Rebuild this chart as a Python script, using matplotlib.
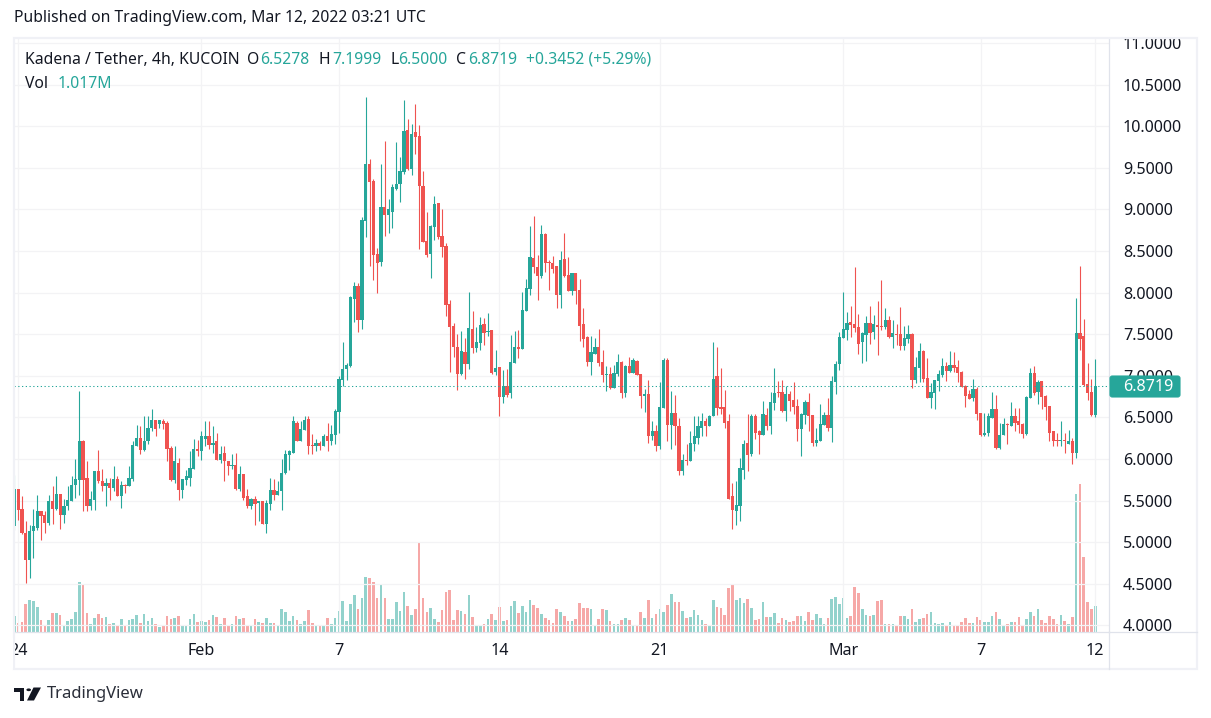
import numpy as np
import matplotlib
matplotlib.use('Agg')
import matplotlib.pyplot as plt
from matplotlib.patches import Rectangle, Polygon, Circle, FancyBboxPatch
from matplotlib.lines import Line2D

# KDA/USDT 4h candles
opens = [5.19,5.64,5.40,5.11,4.79,5.13,5.17,5.38,5.33,5.23,
         5.49,5.40,5.58,5.33,5.44,5.50,5.69,5.75,6.22,5.77,
         5.43,5.51,5.85,5.74,5.67,5.71,5.65,5.76,5.56,5.69,
         5.68,5.76,6.16,6.25,6.11,6.22,6.37,6.47,6.42,6.46,
         6.43,6.13,5.75,5.95,5.63,5.75,5.77,5.88,6.12,6.09,
         6.24,6.27,6.17,6.21,5.99,6.07,5.98,5.91,5.93,5.64,
         5.82,5.56,5.43,5.52,5.47,5.50,5.22,5.46,5.63,5.57,
         5.61,5.83,6.05,6.07,6.43,6.21,6.35,6.48,6.16,6.16,
         6.19,6.16,6.27,6.22,6.29,6.57,6.95,7.08,7.12,7.92,
         8.08,7.67,8.86,9.54,9.34,8.46,8.37,9.03,8.93,8.97,
         9.25,9.30,9.45,9.95,9.49,9.93,9.88,9.28,8.62,8.46,
         8.79,9.07,8.68,8.56,7.86,7.60,7.35,7.02,7.29,7.14,
         7.56,7.33,7.39,7.62,7.53,7.55,7.05,7.11,6.75,6.88,
         6.79,7.15,7.34,7.32,7.78,8.04,8.41,8.31,8.20,8.70,
         8.37,8.35,8.32,7.97,8.40,8.21,8.02,8.23,8.03,7.62,
         7.47,7.17,7.26,7.35,7.17,7.01,7.02,6.85,7.02,7.17,
         6.79,7.12,7.03,7.18,7.02,6.76,6.78,6.28,6.33,6.15,
         6.61,7.19,6.41,6.55,6.40,5.85,5.99,5.97,6.18,6.25,
         6.37,6.46,6.39,6.52,7.00,6.63,6.63,6.46,5.55,5.38,
         5.43,5.87,6.19,6.06,6.51,6.33,6.29,6.53,6.39,6.67,
         6.81,6.81,6.58,6.78,6.71,6.64,6.36,6.53,6.69,6.53,
         6.19,6.22,6.41,6.53,6.37,6.93,7.14,7.45,7.55,7.65,
         7.62,7.59,7.41,7.49,7.63,7.53,7.61,7.60,7.59,7.67,
         7.47,7.50,7.50,7.36,7.44,7.50,6.95,7.09,7.30,6.97,
         6.73,6.79,6.94,7.01,7.12,7.06,7.13,7.11,7.05,6.88,
         6.78,6.73,6.84,6.55,6.29,6.31,6.49,6.60,6.13,6.29,
         6.42,6.40,6.51,6.45,6.42,6.30,6.73,7.03,6.81,6.94,
         6.76,6.64,6.33,6.22,6.21,6.23,6.18,6.21,6.07,7.51,
         7.48,6.90,6.80,6.5278]
closes = [5.64,5.39,5.11,4.78,5.13,5.19,5.37,5.32,5.23,5.50,
          5.40,5.58,5.33,5.44,5.51,5.69,5.76,6.22,5.75,5.43,
          5.52,5.85,5.74,5.67,5.71,5.65,5.76,5.56,5.69,5.68,
          5.77,6.17,6.25,6.11,6.22,6.37,6.47,6.36,6.47,6.42,
          6.12,5.75,5.97,5.63,5.76,5.79,5.89,6.12,6.09,6.27,
          6.27,6.17,6.19,5.99,6.06,5.97,5.91,5.93,5.64,5.82,
          5.53,5.43,5.52,5.46,5.50,5.22,5.47,5.63,5.57,5.62,
          5.83,6.06,6.09,6.45,6.21,6.36,6.47,6.15,6.15,6.19,
          6.15,6.27,6.21,6.30,6.58,6.96,7.08,7.13,7.95,8.08,
          7.67,8.87,9.54,9.33,8.45,8.35,9.03,8.93,9.00,9.27,
          9.31,9.46,9.94,9.48,9.91,9.87,9.28,8.61,8.45,8.80,
          9.06,8.67,8.55,7.85,7.59,7.34,7.02,7.30,7.14,7.57,
          7.33,7.40,7.61,7.51,7.54,7.03,7.09,6.75,6.88,6.77,
          7.17,7.35,7.32,7.79,8.05,8.43,8.31,8.20,8.70,8.35,
          8.35,8.28,7.97,8.39,8.20,8.02,8.23,8.02,7.60,7.44,
          7.17,7.29,7.35,7.15,7.01,7.02,6.85,7.03,7.17,6.79,
          7.12,7.03,7.19,7.01,6.76,6.78,6.27,6.33,6.15,6.63,
          7.19,6.41,6.55,6.39,5.85,5.99,5.97,6.19,6.27,6.39,
          6.46,6.39,6.52,6.96,6.61,6.60,6.43,5.52,5.39,5.45,
          5.89,6.18,6.05,6.51,6.31,6.29,6.54,6.39,6.69,6.79,
          6.79,6.58,6.78,6.70,6.63,6.36,6.54,6.69,6.52,6.19,
          6.23,6.42,6.53,6.37,6.94,7.14,7.47,7.56,7.63,7.61,
          7.57,7.38,7.51,7.63,7.51,7.62,7.59,7.59,7.67,7.47,
          7.51,7.49,7.36,7.45,7.50,6.95,7.11,7.30,6.96,6.73,
          6.81,6.95,7.02,7.12,7.06,7.13,7.09,7.03,6.87,6.76,
          6.72,6.84,6.54,6.29,6.31,6.51,6.60,6.13,6.29,6.42,
          6.41,6.51,6.43,6.41,6.30,6.75,7.03,6.79,6.93,6.75,
          6.63,6.31,6.21,6.21,6.23,6.21,6.21,6.07,7.51,7.44,
          6.89,6.79,6.53,6.8719]
highs = [5.81,5.64,5.56,5.25,5.21,5.40,5.57,5.38,5.37,5.57,
         5.68,5.79,5.58,5.52,5.68,5.79,6.00,6.82,6.23,5.97,
         5.62,5.85,6.11,5.88,5.77,5.77,5.91,5.80,5.73,5.70,
         5.91,6.22,6.41,6.39,6.51,6.51,6.60,6.47,6.47,6.48,
         6.45,6.15,6.15,6.01,5.76,5.87,6.09,6.24,6.23,6.33,
         6.46,6.45,6.39,6.31,6.16,6.15,5.98,6.06,6.07,5.91,
         5.82,5.64,5.53,5.56,5.50,5.50,5.51,5.77,5.76,5.73,
         6.00,6.11,6.11,6.51,6.46,6.46,6.51,6.51,6.30,6.24,
         6.21,6.30,6.43,6.41,6.60,7.00,7.41,7.15,7.96,8.13,
         8.11,8.91,10.35,9.61,9.36,8.53,9.55,9.82,9.13,9.31,
         9.81,9.63,10.31,10.08,10.02,10.26,10.01,9.46,8.97,8.81,
         9.16,9.07,9.00,8.59,7.91,7.63,7.50,7.54,7.45,8.01,
         7.78,7.58,7.71,7.69,7.75,7.55,7.31,7.11,7.07,7.08,
         7.49,7.54,7.55,8.01,8.16,8.80,8.92,8.45,8.81,8.71,
         8.39,8.44,8.32,8.50,8.71,8.43,8.23,8.23,8.16,7.81,
         7.48,7.48,7.45,7.56,7.31,7.12,7.11,7.13,7.26,7.18,
         7.13,7.23,7.21,7.19,7.02,6.84,6.95,6.45,6.41,6.93,
         7.21,7.21,6.82,6.77,6.49,6.06,6.18,6.33,6.51,6.51,
         6.55,6.49,6.53,7.41,7.35,7.09,6.83,6.54,5.71,5.74,
         6.01,6.23,6.54,6.54,6.54,6.35,6.70,6.61,6.81,7.09,
         6.94,6.95,6.88,6.82,6.93,6.72,6.55,6.71,6.79,6.53,
         6.37,6.66,6.57,6.73,7.00,7.18,7.53,8.01,7.77,7.84,
         8.31,7.74,7.53,7.72,7.84,7.73,7.90,8.15,7.81,7.72,
         7.67,7.62,7.83,7.60,7.61,7.51,7.23,7.39,7.31,7.21,
         6.91,6.95,7.07,7.21,7.17,7.30,7.29,7.19,7.06,6.89,
         6.83,6.96,6.87,6.55,6.55,6.55,6.81,6.77,6.43,6.49,
         6.43,6.69,6.61,6.61,6.43,6.76,7.09,7.12,6.95,6.94,
         6.77,6.64,6.34,6.31,6.46,6.31,6.35,6.25,7.93,8.32,
         7.68,7.15,6.96,7.1999]
lows = [5.15,5.27,5.10,4.51,4.57,4.81,5.15,5.02,5.11,5.21,
        5.22,5.39,5.16,5.23,5.39,5.50,5.53,5.57,5.38,5.37,
        5.39,5.39,5.71,5.61,5.43,5.51,5.62,5.55,5.41,5.59,
        5.68,5.74,6.16,6.06,6.10,6.18,6.34,6.28,6.37,6.36,
        5.97,5.73,5.71,5.51,5.53,5.69,5.68,5.88,6.04,5.99,
        6.15,6.12,6.07,5.99,5.95,5.73,5.81,5.88,5.63,5.61,
        5.51,5.41,5.40,5.21,5.26,5.22,5.11,5.39,5.51,5.57,
        5.39,5.82,5.87,6.07,6.21,6.21,6.35,6.06,6.06,6.09,
        6.11,6.16,6.09,6.17,6.18,6.31,6.88,6.95,7.11,7.65,
        7.53,7.56,8.67,8.32,8.15,8.00,8.32,8.68,8.71,8.77,
        9.23,9.09,9.42,9.47,9.41,9.66,8.52,8.61,8.43,8.17,
        8.63,8.64,8.43,7.72,7.05,7.23,6.83,7.01,6.96,7.08,
        7.27,7.29,7.31,7.37,7.48,7.02,7.01,6.51,6.67,6.75,
        6.73,7.15,7.21,7.32,7.78,7.97,8.23,7.91,8.17,8.25,
        8.03,8.23,7.81,7.81,8.19,8.02,7.97,7.86,7.42,7.35,
        7.12,7.01,7.26,7.12,6.93,6.82,6.84,6.85,7.00,6.73,
        6.74,7.03,7.03,7.01,6.61,6.57,6.19,6.23,6.09,6.12,
        6.61,6.21,6.12,6.17,5.81,5.81,5.93,5.97,6.09,6.18,
        6.27,6.28,6.39,6.52,6.53,6.54,6.37,5.52,5.16,5.21,
        5.25,5.76,5.86,6.03,6.24,6.06,6.29,6.35,6.30,6.59,
        6.75,6.57,6.45,6.58,6.54,6.21,6.03,6.42,6.33,6.16,
        6.16,6.21,6.41,6.34,6.20,6.78,7.07,7.45,7.43,7.47,
        7.53,7.26,7.15,7.18,7.38,7.44,7.25,7.55,7.56,7.45,
        7.33,7.37,7.31,7.31,7.39,6.85,6.91,6.93,6.93,6.73,
        6.61,6.60,6.82,6.99,6.94,7.05,7.05,6.93,6.87,6.63,
        6.72,6.70,6.47,6.27,6.27,6.27,6.49,6.12,6.12,6.29,
        6.18,6.39,6.33,6.31,6.25,6.29,6.73,6.77,6.66,6.60,
        6.47,6.22,6.16,6.15,6.16,6.07,6.18,5.94,6.01,7.31,
        6.88,6.71,6.51,6.50]
# volume in relative units, the last one is the 1.017M of the legend
vol_rel = [48,27,30,84,96,93,75,36,21,36,
           57,57,51,21,33,39,60,150,144,57,
           24,42,54,42,45,24,27,21,39,21,
           36,39,51,27,54,33,42,24,15,18,
           48,39,42,48,18,18,39,54,30,33,
           30,36,51,45,24,42,18,24,48,39,
           42,21,18,39,30,27,42,27,27,21,
           69,60,33,48,36,24,33,66,27,21,
           18,21,42,24,42,63,93,33,84,111,
           69,102,165,162,150,102,141,102,39,39,
           90,63,120,78,51,69,270,102,60,72,
           39,30,66,120,126,36,66,63,54,111,
           45,21,21,24,39,54,36,75,33,36,
           78,93,57,78,60,96,81,72,54,42,
           36,27,69,60,48,33,33,39,87,72,
           72,69,21,39,69,66,33,24,24,36,
           42,36,18,18,60,42,96,42,54,69,
           60,81,114,90,90,63,42,45,66,51,
           36,24,21,96,75,72,51,132,144,96,
           102,87,99,72,36,39,90,45,45,57,
           27,42,36,30,33,48,48,33,60,36,
           54,42,24,42,99,105,84,102,42,48,
           135,117,69,51,48,51,93,96,24,24,
           24,21,48,48,39,69,30,39,42,54,
           60,27,24,27,21,30,18,18,30,42,
           27,27,45,36,30,30,48,60,39,21,
           24,30,30,45,21,39,60,48,69,36,
           27,48,39,24,51,33,24,45,414,444,
           225,90,69,78]

price_ticks = [4.0,4.5,5.0,5.5,6.0,6.5,7.0,7.5,8.0,8.5,9.0,9.5,10.0,10.5,11.0]
date_pos = [1, 49, 85, 127, 169, 217, 253, 283]
date_labels = ['24', 'Feb', '7', '14', '21', 'Mar', '7', '12']
last_price = 6.8719

GREEN = '#26a69a'
RED = '#ef5350'
GRID = '#f3f3f5'
FRAME = '#f0f1f6'
LINE = '#e0e3eb'
INK = '#131722'
W, H = 1211, 718

plt.rcParams['font.family'] = ['Noto Sans', 'DejaVu Sans']

opens = np.array(opens)
closes = np.array(closes)
highs = np.array(highs)
lows = np.array(lows)
volumes = np.array(vol_rel) * 1.017e6 / vol_rel[-1]
x = np.arange(len(opens))
up = closes >= opens
colors = np.where(up, GREEN, RED)

fig = plt.figure(figsize=(W / 100, H / 100), dpi=100, facecolor='white')

def fx(px):
    return px / W

def fy(px):
    return 1 - px / H

# plot area runs from x=14 to x=1109, y=39 to y=632
rect = [fx(14), fy(632), fx(1109 - 14), (632 - 39) / H]
ax_vol = fig.add_axes(rect)
ax = fig.add_axes(rect)
ax_vol.set_zorder(1)
ax.set_zorder(2)
ax.patch.set_visible(False)

ax.set_xlim(-0.08, 286.6)
ax.set_ylim(3.92, 11.047)
ax_vol.set_xlim(ax.get_xlim())
ax_vol.set_ylim(0, volumes.max() * 593 / 148)
ax_vol.axis('off')

ax.set_axisbelow(True)
ax.grid(True, color=GRID, linewidth=0.9)

ax_vol.bar(x, volumes, width=0.68, color=colors, alpha=0.5, linewidth=0)

ax.vlines(x, lows, highs, colors=colors, linewidth=0.8, zorder=3)
ax.bar(x, np.maximum(np.abs(closes - opens), 0.012), bottom=np.minimum(opens, closes),
       width=0.85, color=colors, linewidth=0, zorder=4)

ax.axhline(last_price, color=GREEN, linewidth=0.75, linestyle=(0, (1.2, 2.4)), zorder=5)

ax.yaxis.tick_right()
ax.set_yticks(price_ticks)
ax.set_yticklabels(['%.4f' % p for p in price_ticks])
ax.set_xticks(date_pos)
ax.set_xticklabels(date_labels)
ax.tick_params(axis='y', length=0, pad=10, labelsize=11.6, labelcolor=INK)
ax.tick_params(axis='x', length=0, pad=8, labelsize=11.6, labelcolor=INK)
for s in ['top', 'left']:
    ax.spines[s].set_visible(False)
for s in ['right', 'bottom']:
    ax.spines[s].set_color(LINE)
    ax.spines[s].set_linewidth(0.9)

# frame around the chart and the two axis strips
fig.add_artist(Rectangle((fx(14), fy(669)), fx(1197 - 14), (669 - 38) / H, fill=False,
                         edgecolor=FRAME, linewidth=1.6, zorder=3))
fig.add_artist(Line2D([fx(1109), fx(1197)], [fy(632), fy(632)], color=LINE, linewidth=0.9, zorder=3))
fig.add_artist(Line2D([fx(1109), fx(1109)], [fy(632), fy(669)], color=LINE, linewidth=0.9, zorder=3))
# the first date label is cut off by the chart edge
fig.add_artist(Rectangle((0, fy(668)), fx(13), 30 / H, facecolor='white', edgecolor='none', zorder=4))

# last price tag
fig.add_artist(FancyBboxPatch((fx(1110), fy(397)), fx(70), 21 / H,
                              boxstyle='round,pad=0,rounding_size=0.002',
                              mutation_aspect=1.6, facecolor=GREEN, edgecolor=GREEN,
                              linewidth=0.8, zorder=5))
fig.text(fx(1123), fy(387.5), '%.4f' % last_price, color='white', fontsize=11.6,
         fontweight='bold', va='center', ha='left', zorder=6)

def label(px, py, s, color=INK, **kw):
    fig.text(fx(px), fy(py), s, color=color, fontsize=kw.pop('size', 11.3), va='center', ha='left', **kw)

label(14, 17.5, 'Published on TradingView.com, Mar 12, 2022 03:21 UTC')
label(25, 59.5, 'Kadena / Tether, 4h, KUCOIN')
label(247, 59.5, 'O')
label(260, 59.5, '6.5278', GREEN)
label(319, 59.5, 'H')
label(332, 59.5, '7.1999', GREEN)
label(391, 59.5, 'L')
label(398, 59.5, '6.5000', GREEN)
label(456, 59.5, 'C')
label(468, 59.5, '6.8719', GREEN)
label(526, 59.5, '+0.3452 (+5.29%)', GREEN)
label(25, 83.5, 'Vol')
label(58, 83.5, '1.017M', GREEN)

# TradingView logo
fig.add_artist(Polygon([(fx(14), fy(687.5)), (fx(24), fy(687.5)), (fx(24), fy(700.5)),
                        (fx(19.5), fy(700.5)), (fx(19.5), fy(692)), (fx(14), fy(692))],
                       closed=True, facecolor=INK, edgecolor='none', zorder=3))
fig.add_artist(Polygon([(fx(33.5), fy(687.5)), (fx(41), fy(687.5)), (fx(34), fy(700.5)), (fx(27), fy(700.5))],
                       closed=True, facecolor=INK, edgecolor='none', zorder=3))
fig.add_artist(Circle((fx(28.7), fy(689.8)), fx(2.3), facecolor=INK, edgecolor='none', zorder=3))
label(47, 694.5, 'TradingView', '#2a2e39', size=12.0)

fig.savefig('out.png', dpi=100)
